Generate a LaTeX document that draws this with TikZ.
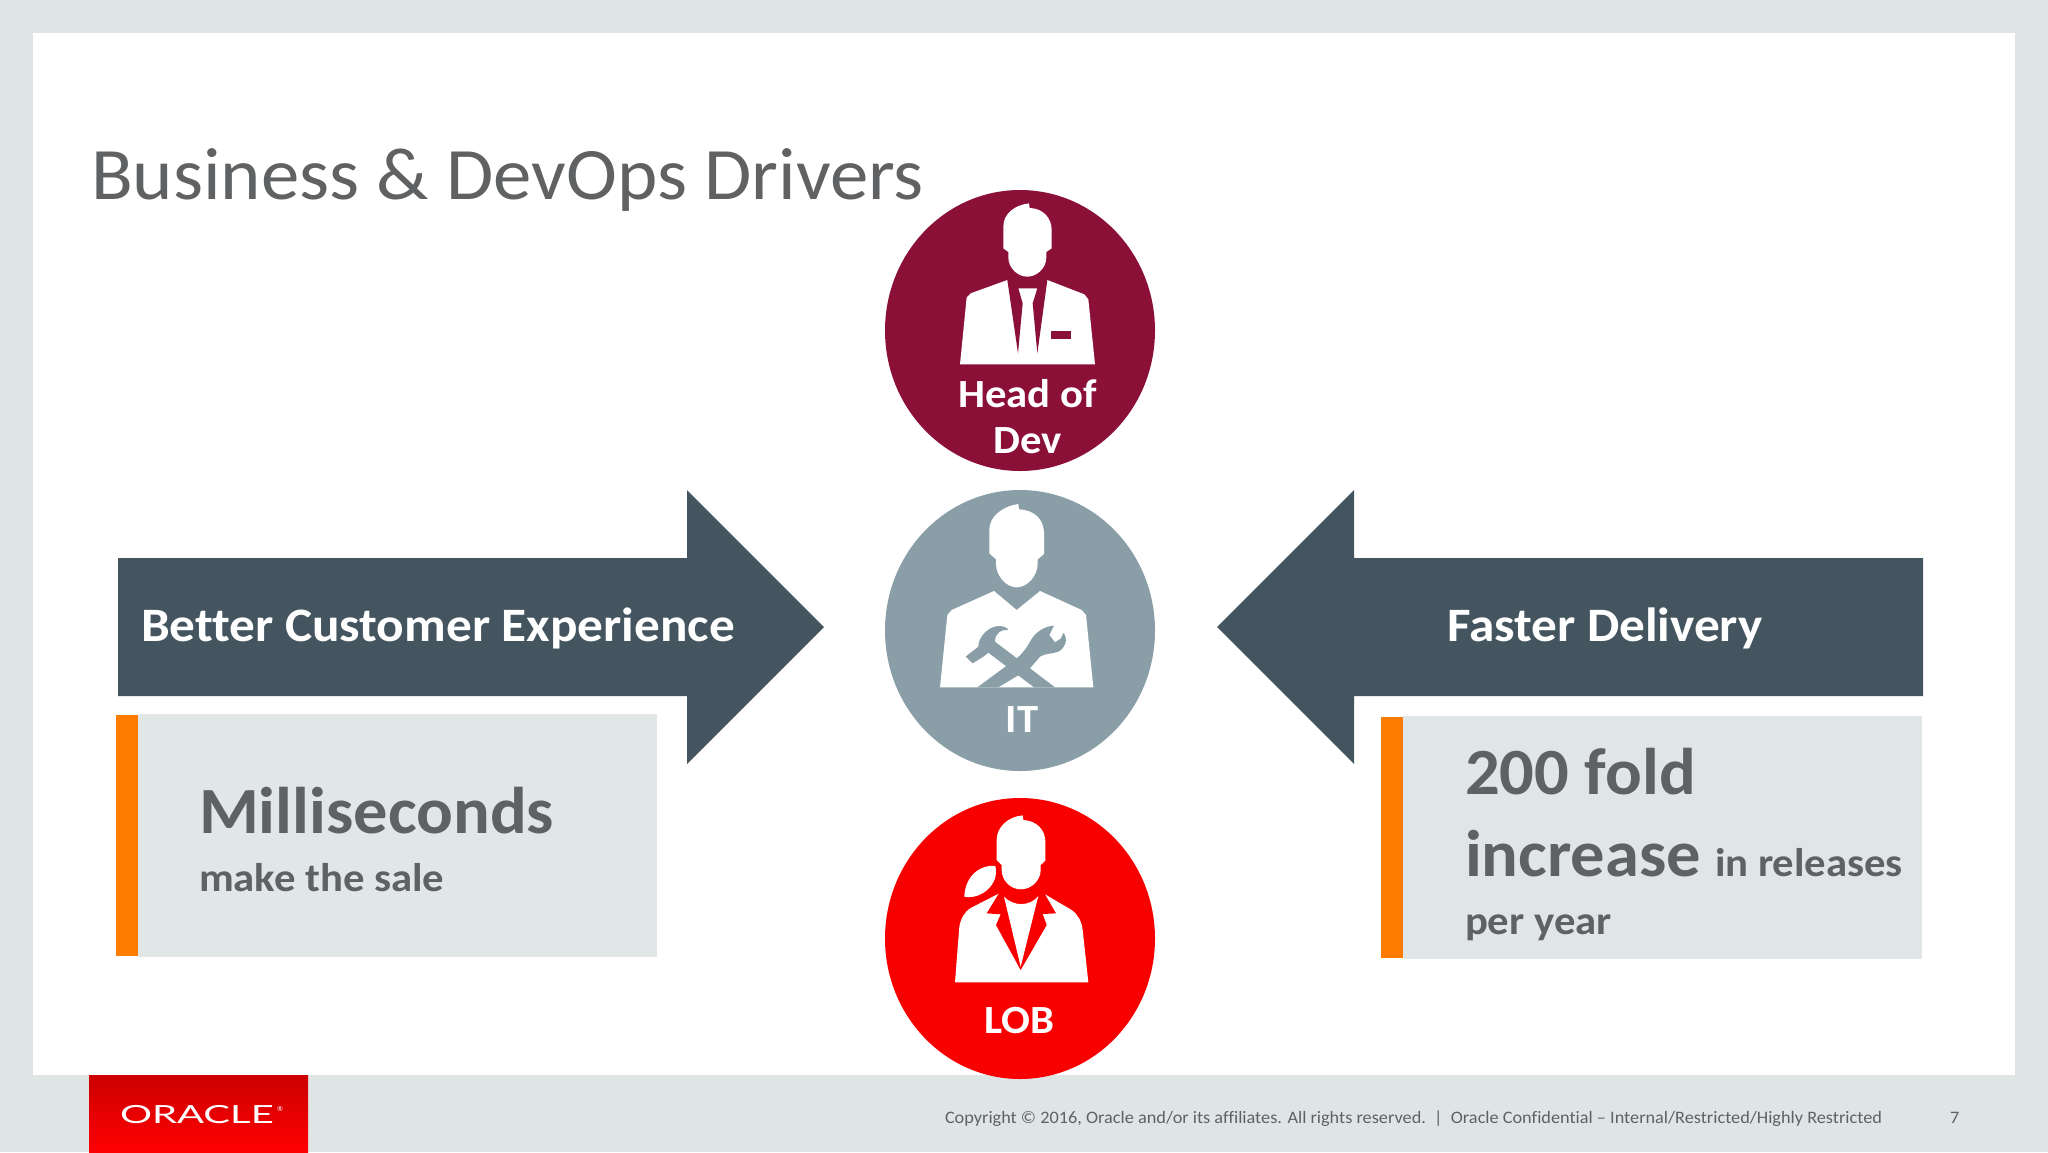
\documentclass[tikz,border=0pt]{standalone}
\usepackage{fontspec}
\setmainfont[Ligatures=NoCommon]{Carlito}
\newfontfamily\wideA[FakeStretch=1.068,Ligatures=NoCommon]{Carlito}
\newfontfamily\wideB[FakeStretch=1.038,Ligatures=NoCommon]{Carlito}
\newfontfamily\wideC[FakeStretch=1.044,Ligatures=NoCommon]{Carlito}
\newfontfamily\logofont{Lato}
\usetikzlibrary{shapes.geometric}
\definecolor{bandgray}{HTML}{DFE5E4}
\definecolor{slate}{HTML}{44555F}
\definecolor{boxgrayL}{HTML}{E1E6E6}
\definecolor{boxgrayR}{HTML}{E0E5E8}
\definecolor{orangebar}{HTML}{FF7C00}
\definecolor{textgray}{HTML}{5F6163}
\definecolor{headred}{HTML}{8A1038}
\definecolor{itgray}{HTML}{8A9EA8}
\definecolor{lobred}{HTML}{F80000}
\tikzset{
  txt/.style={anchor=base west,inner sep=0pt,outer sep=0pt},
  arrowlabel/.style={txt,text=white,font=\wideA\bfseries\fontsize{48}{48}\selectfont},
  circlelabel/.style={inner sep=0pt,outer sep=0pt,anchor=base,text=white,font=\wideA\bfseries\fontsize{40}{40}\selectfont},
  bigtxt/.style={txt,text=textgray,font=\wideB\bfseries\fontsize{66}{66}\selectfont},
  smalltxt/.style={txt,text=textgray,font=\wideA\bfseries\fontsize{40}{40}\selectfont},
  foot/.style={txt,text=textgray,font=\wideC\fontsize{17.5}{17.5}\selectfont},
  disc/.style={ellipse,minimum width=270pt,minimum height=281pt,inner sep=0pt,outer sep=0pt},
  iconframe/.style={x=0.33333pt,y=-0.33333pt}
}
\begin{document}
\begin{tikzpicture}[x=1pt,y=-1pt]
\useasboundingbox (0,0) rectangle (2048,1152);
% slide
\fill[bandgray] (0,0) rectangle (2048,1152);
\fill[white] (33,33) rectangle (2015,1075);
% title
\node[txt,text=textgray,font=\wideB\fontsize{74}{74}\selectfont] (title) at (91,199) {Business \& DevOps Drivers};
% arrows
\fill[slate] (118,558) -- (687,558) -- (687,490) -- (824,627) -- (687,764) -- (687,696) -- (118,696) -- cycle;
\fill[slate] (1923,558) -- (1354,558) -- (1354,490) -- (1217,627) -- (1354,764) -- (1354,696) -- (1923,696) -- cycle;
\node[arrowlabel] (better) at (141,641) {Better Customer Experience};
\node[arrowlabel] (faster) at (1447,641) {Faster Delivery};
% boxes
\fill[boxgrayL] (138,714) rectangle (657,957);
\fill[orangebar] (116,715) rectangle (138,956);
\fill[boxgrayR] (1403,716) rectangle (1922,959);
\fill[orangebar] (1381,717) rectangle (1403,958);
\node[bigtxt] (millis) at (199,833) {Milliseconds};
\node[smalltxt] (sale) at (199,891) {make the sale};
\node[bigtxt] (fold) at (1465,794) {200 fold};
\node[bigtxt] (incr) at (1465,876) {increase};
\node[smalltxt] (rel) at (1715,876) {in releases};
\node[smalltxt] (peryear) at (1465,934) {per year};
% discs
\node[disc,fill=headred] (headdisc) at (1020,330.5) {};
\node[disc,fill=itgray] (itdisc) at (1020,630.5) {};
\node[disc,fill=lobred] (lobdisc) at (1020,938.5) {};
% head of dev icon
\begin{scope}[shift={(870,180)},iconframe]
\fill[white] (400,205) -- (400,140) .. controls (400,100) and (435,75) .. (477,70) -- (479,84) .. controls (520,85) and (545,115) .. (545,150) -- (545,205) -- (529,216) -- (529,232) .. controls (529,265) and (500,290) .. (472,290) .. controls (444,290) and (415,265) .. (415,232) -- (415,216) -- cycle;
\fill[white] (270,553) -- (290,352) -- (302,340) -- (412,300) -- (532,300) -- (643,343) -- (655,358) -- (675,553) -- cycle;
\fill[headred] (412,300) -- (532,300) -- (502,520) -- (488,370) -- (502,325) -- (445,325) -- (458,370) -- (444,520) -- cycle;
\fill[headred] (542,452) rectangle (602,478);
\end{scope}
% it icon
\begin{scope}[shift={(870,480)},iconframe]
\fill[white] (358,220) -- (358,150) .. controls (358,110) and (395,80) .. (445,72) -- (447,88) .. controls (495,90) and (522,120) .. (522,160) -- (522,222) -- (503,238) -- (503,250) .. controls (503,290) and (470,322) .. (440,322) .. controls (410,322) and (378,290) .. (378,250) -- (378,238) -- cycle;
\fill[white] (210,622) -- (232,405) -- (245,390) -- (372,333) -- (440,390) -- (510,333) -- (635,390) -- (648,405) -- (670,622) -- cycle;
\fill[itgray] (492,622) -- (355,518) -- (340,530) -- (308,550) -- (287,530) -- (325,500) .. controls (325,470) and (355,440) .. (385,438) .. controls (400,438) and (412,443) .. (415,450) .. controls (395,447) and (375,458) .. (375,485) -- (555,622) -- cycle;
\fill[itgray] (322,622) -- (440,535) .. controls (470,510) and (475,490) .. (490,470) .. controls (505,450) and (530,438) .. (552,437) -- (538,465) -- (555,487) -- (572,476) -- (581,458) .. controls (595,480) and (585,505) .. (565,515) .. controls (545,522) and (525,520) .. (510,530) -- (480,565) -- (385,622) -- cycle;
\end{scope}
% lob icon
\begin{scope}[shift={(870,790)},iconframe]
\fill[white] (380,210) -- (380,150) .. controls (380,110) and (415,80) .. (458,76) -- (460,90) .. controls (500,92) and (526,120) .. (526,155) -- (526,212) -- (512,225) -- (512,240) .. controls (512,270) and (485,298) .. (453,298) .. controls (420,298) and (395,270) .. (395,240) -- (395,225) -- cycle;
\fill[white] (376,228) .. controls (335,222) and (285,255) .. (283,320) .. controls (330,330) and (390,285) .. (376,228) -- cycle;
\fill[white] (255,577) -- (268,410) .. controls (272,385) and (285,365) .. (300,355) -- (388,310) -- (520,310) -- (605,360) .. controls (625,375) and (635,395) .. (638,420) -- (655,577) -- cycle;
\fill[lobred] (388,308) -- (350,370) -- (392,373) -- (378,405) -- (452,540) -- (530,405) -- (518,372) -- (558,370) -- (522,308) -- cycle;
\fill[white] (402,320) .. controls (430,350) and (480,350) .. (505,318) -- (452,530) -- cycle;
\end{scope}
% disc labels
\node[circlelabel] (headl) at (1027.5,407) {Head of};
\node[circlelabel] (devl) at (1027.5,453) {Dev};
\node[circlelabel] (itl) at (1022,732) {IT};
\node[circlelabel] (lobl) at (1019.5,1033) {LOB};
% logo
\shade[top color=red!80!black,bottom color=red] (89,1075) rectangle (308,1152);
\node[txt,text=white,font=\logofont\fontsize{25}{25}\selectfont] (oracle) at (120,1123) {\scalebox{1.6}[1]{ORACLE}};
\node[txt,text=white,font=\logofont\fontsize{7}{7}\selectfont] (reg) at (277,1111) {®};
% footer
\node[foot] (copy) at (945,1123) {Copyright © 2016, Oracle and/or its affiliates. All rights reserved.\ \ |\ \ Oracle Confidential – Internal/Restricted/Highly Restricted};
\node[foot] (pageno) at (1950,1123) {7};
\end{tikzpicture}
\end{document}
